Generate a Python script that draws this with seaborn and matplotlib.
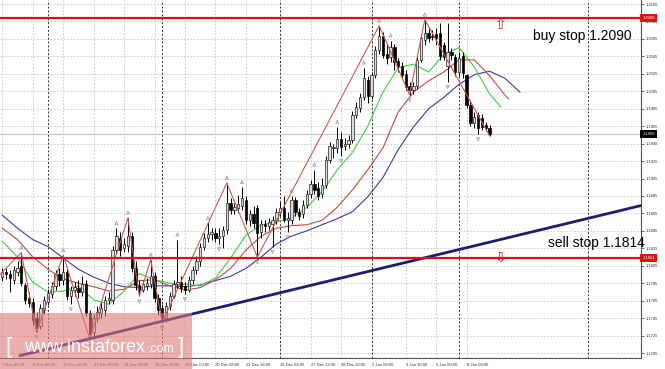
import numpy as np
import pandas as pd
import matplotlib
matplotlib.use('Agg')
import matplotlib.pyplot as plt
import matplotlib.transforms as mtransforms
from matplotlib.patches import Rectangle
import seaborn as sns

# EURUSD H4 bars, 7 Dec 00:00 -> 9 Jan 08:00
bar_open = [1.1792, 1.1798, 1.1796, 1.1789, 1.1798, 1.1805, 1.1783, 1.1768, 1.1764, 1.1745,
            1.1736, 1.1754, 1.1764, 1.1773, 1.1782, 1.1796, 1.1789, 1.1798, 1.1770, 1.1777,
            1.1780, 1.1775, 1.1784, 1.1751, 1.1729, 1.1745, 1.1751, 1.1754, 1.1766, 1.1766,
            1.1823, 1.1837, 1.1825, 1.1828, 1.1839, 1.1803, 1.1783, 1.1777, 1.1782, 1.1784,
            1.1793, 1.1768, 1.1757, 1.1745, 1.1759, 1.1770, 1.1784, 1.1786, 1.1782, 1.1777,
            1.1789, 1.1800, 1.1810, 1.1827, 1.1837, 1.1841, 1.1843, 1.1837, 1.1839, 1.1846,
            1.1877, 1.1869, 1.1871, 1.1874, 1.1880, 1.1857, 1.1864, 1.1871, 1.1844, 1.1853,
            1.1851, 1.1853, 1.1857, 1.1867, 1.1871, 1.1857, 1.1857, 1.1880, 1.1867, 1.1864,
            1.1875, 1.1887, 1.1899, 1.1894, 1.1887, 1.1898, 1.1926, 1.1940, 1.1940, 1.1950,
            1.1942, 1.1945, 1.1949, 1.1978, 1.1986, 1.1999, 1.2018, 1.2000, 1.2024, 1.2052,
            1.2068, 1.2048, 1.2044, 1.2056, 1.2040, 1.2034, 1.2025, 1.2011, 1.2007, 1.2011,
            1.2041, 1.2064, 1.2072, 1.2068, 1.2071, 1.2072, 1.2058, 1.2034, 1.2050, 1.2044,
            1.2027, 1.2045, 1.2024, 1.1989, 1.1969, 1.1978, 1.1974, 1.1966, 1.1963]
bar_high = [1.1803, 1.1803, 1.1800, 1.1805, 1.1810, 1.1820, 1.1785, 1.1775, 1.1768, 1.1752,
            1.1761, 1.1770, 1.1778, 1.1786, 1.1800, 1.1803, 1.1817, 1.1803, 1.1782, 1.1786,
            1.1789, 1.1793, 1.1789, 1.1754, 1.1750, 1.1759, 1.1764, 1.1770, 1.1775, 1.1828,
            1.1848, 1.1844, 1.1837, 1.1860, 1.1844, 1.1810, 1.1789, 1.1789, 1.1791, 1.1812,
            1.1798, 1.1773, 1.1761, 1.1764, 1.1775, 1.1789, 1.1835, 1.1793, 1.1786, 1.1793,
            1.1805, 1.1816, 1.1831, 1.1843, 1.1854, 1.1848, 1.1848, 1.1848, 1.1851, 1.1900,
            1.1883, 1.1877, 1.1886, 1.1895, 1.1885, 1.1869, 1.1874, 1.1875, 1.1857, 1.1857,
            1.1860, 1.1862, 1.1871, 1.1878, 1.1885, 1.1867, 1.1885, 1.1884, 1.1871, 1.1880,
            1.1892, 1.1903, 1.1915, 1.1901, 1.1906, 1.1931, 1.1947, 1.1945, 1.1964, 1.1958,
            1.1951, 1.1955, 1.1982, 1.1993, 1.2003, 1.2032, 1.2023, 1.2027, 1.2057, 1.2080,
            1.2073, 1.2059, 1.2063, 1.2059, 1.2043, 1.2039, 1.2029, 1.2016, 1.2016, 1.2045,
            1.2071, 1.2087, 1.2079, 1.2075, 1.2078, 1.2083, 1.2061, 1.2083, 1.2055, 1.2048,
            1.2050, 1.2050, 1.2025, 1.1995, 1.1981, 1.1981, 1.1979, 1.1970, 1.1966]
bar_low = [1.1788, 1.1790, 1.1775, 1.1784, 1.1793, 1.1782, 1.1761, 1.1758, 1.1737, 1.1729,
           1.1732, 1.1750, 1.1760, 1.1768, 1.1777, 1.1782, 1.1783, 1.1766, 1.1761, 1.1770,
           1.1768, 1.1770, 1.1748, 1.1721, 1.1722, 1.1741, 1.1745, 1.1748, 1.1761, 1.1761,
           1.1819, 1.1816, 1.1821, 1.1821, 1.1798, 1.1777, 1.1770, 1.1775, 1.1777, 1.1780,
           1.1764, 1.1749, 1.1740, 1.1741, 1.1754, 1.1768, 1.1780, 1.1775, 1.1773, 1.1775,
           1.1784, 1.1796, 1.1805, 1.1823, 1.1832, 1.1835, 1.1832, 1.1830, 1.1825, 1.1841,
           1.1864, 1.1864, 1.1867, 1.1869, 1.1853, 1.1851, 1.1848, 1.1815, 1.1837, 1.1844,
           1.1846, 1.1827, 1.1853, 1.1862, 1.1855, 1.1844, 1.1853, 1.1862, 1.1857, 1.1860,
           1.1871, 1.1883, 1.1887, 1.1880, 1.1883, 1.1894, 1.1923, 1.1929, 1.1934, 1.1931,
           1.1938, 1.1940, 1.1946, 1.1974, 1.1981, 1.1995, 1.1992, 1.1996, 1.2020, 1.2048,
           1.2043, 1.2036, 1.2039, 1.2029, 1.2027, 1.2020, 1.2007, 1.2001, 1.2002, 1.2008,
           1.2039, 1.2058, 1.2061, 1.2064, 1.2058, 1.2041, 1.2041, 1.2016, 1.2041, 1.2023,
           1.2023, 1.2020, 1.1986, 1.1965, 1.1963, 1.1956, 1.1961, 1.1960, 1.1954]
bar_close = [1.1798, 1.1796, 1.1791, 1.1800, 1.1803, 1.1785, 1.1766, 1.1762, 1.1743, 1.1734,
             1.1757, 1.1766, 1.1774, 1.1782, 1.1796, 1.1789, 1.1798, 1.1770, 1.1777, 1.1781,
             1.1775, 1.1784, 1.1751, 1.1727, 1.1745, 1.1752, 1.1757, 1.1766, 1.1768, 1.1823,
             1.1839, 1.1823, 1.1830, 1.1839, 1.1803, 1.1783, 1.1777, 1.1784, 1.1785, 1.1793,
             1.1768, 1.1754, 1.1745, 1.1759, 1.1770, 1.1784, 1.1786, 1.1780, 1.1777, 1.1789,
             1.1800, 1.1810, 1.1827, 1.1837, 1.1841, 1.1844, 1.1837, 1.1839, 1.1846, 1.1877,
             1.1869, 1.1872, 1.1876, 1.1883, 1.1857, 1.1864, 1.1854, 1.1843, 1.1853, 1.1851,
             1.1855, 1.1857, 1.1867, 1.1871, 1.1857, 1.1860, 1.1880, 1.1867, 1.1862, 1.1875,
             1.1887, 1.1899, 1.1892, 1.1885, 1.1898, 1.1926, 1.1942, 1.1941, 1.1950, 1.1941,
             1.1945, 1.1949, 1.1978, 1.1987, 1.1999, 1.2020, 1.2000, 1.2024, 1.2052, 1.2068,
             1.2047, 1.2043, 1.2056, 1.2039, 1.2034, 1.2024, 1.2010, 1.2007, 1.2011, 1.2041,
             1.2066, 1.2072, 1.2066, 1.2067, 1.2066, 1.2045, 1.2044, 1.2050, 1.2047, 1.2027,
             1.2043, 1.2026, 1.1989, 1.1969, 1.1976, 1.1963, 1.1964, 1.1963, 1.1956]

# Alligator lines, read every 4 bars (jaw is shifted 8 bars, teeth 5, lips 3)
jaw = [1.1863, 1.1848, 1.1835, 1.1827, 1.1814, 1.1801, 1.1792, 1.1785, 1.1781, 1.1780,
       1.1782, 1.1782, 1.1781, 1.1783, 1.1788, 1.1793, 1.1802, 1.1815, 1.1830, 1.1839,
       1.1845, 1.1852, 1.1859, 1.1867, 1.1884, 1.1906, 1.1938, 1.1964, 1.1985, 1.1998,
       1.2013, 1.2024, 1.2028, 1.2020, 1.2004]
teeth = [1.1848, 1.1835, 1.1815, 1.1801, 1.1790, 1.1785, 1.1781, 1.1776, 1.1778, 1.1788,
         1.1789, 1.1782, 1.1777, 1.1780, 1.1789, 1.1802, 1.1823, 1.1839, 1.1848, 1.1851,
         1.1852, 1.1857, 1.1872, 1.1892, 1.1915, 1.1940, 1.1981, 1.2004, 1.2017, 1.2027,
         1.2041, 1.2041, 1.2023, 1.2001, 1.1996]
lips = [1.1833, 1.1815, 1.1786, 1.1775, 1.1776, 1.1782, 1.1766, 1.1761, 1.1776, 1.1796,
        1.1789, 1.1785, 1.1784, 1.1782, 1.1791, 1.1814, 1.1840, 1.1852, 1.1855, 1.1860,
        1.1872, 1.1890, 1.1915, 1.1935, 1.1965, 1.2004, 1.2032, 1.2036, 1.2027, 1.2047,
        1.2055, 1.2033, 1.2002, 1.1987]
jaw_idx = list(range(0, 137, 4))
teeth_idx = list(range(0, 133, 4)) + [133]
lips_idx = list(range(0, 129, 4)) + [131]

# zigzag pivots and fractal bars
zz_idx = [-2, 5, 9, 16, 23, 33, 36, 39, 42, 59, 67, 99, 107, 111, 128]
zz_price = [1.1789, 1.1820, 1.1729, 1.1817, 1.1721, 1.1860, 1.1770, 1.1812, 1.1740,
            1.1900, 1.1815, 1.2080, 1.2001, 1.2087, 1.1954]
fractal_up = [5, 16, 30, 33, 39, 46, 54, 59, 63, 76, 82, 88, 95, 99, 102, 111, 117]
fractal_dn = [9, 18, 23, 36, 42, 48, 57, 67, 71, 75, 89, 107, 117, 125]

# levels and trend line
buy_stop = 1.2089
sell_stop = 1.1814
last_price = 1.1956
trend_idx = [4.6, 167.8]
trend_price = [1.1702, 1.1874]
order_bar = 130.8
week_breaks = [12, 42, 73, 97, 120, 154]

time_ticks = [0, 8, 16, 24, 32, 40, 48, 56, 64, 73, 81, 89, 97, 106, 114, 122]
time_labels = ['7 Dec 00:00', '8 Dec 08:00', '11 Dec 16:00', '13 Dec 00:00', '14 Dec 08:00',
               '15 Dec 16:00', '19 Dec 00:00', '20 Dec 08:00', '21 Dec 16:00', '26 Dec 04:00',
               '27 Dec 12:00', '28 Dec 20:00', '2 Jan 08:00', '3 Jan 16:00', '5 Jan 00:00',
               '8 Jan 08:00']
price_ticks = [1.1705, 1.1725, 1.1745, 1.1765, 1.1785, 1.1805, 1.1825, 1.1845, 1.1865,
               1.1885, 1.1905, 1.1925, 1.1945, 1.1965, 1.1985, 1.2005, 1.2025, 1.2045,
               1.2065, 1.2085, 1.2105]

sns.set_style('white')
plt.rcParams['font.family'] = ['Liberation Sans', 'DejaVu Sans']

bars = pd.DataFrame({'open': bar_open, 'high': bar_high, 'low': bar_low, 'close': bar_close})
bars['idx'] = np.arange(len(bars))
up = bars[bars['close'] >= bars['open']]
dn = bars[bars['close'] < bars['open']]

fig = plt.figure(figsize=(6.65, 3.69), dpi=100)
ax = fig.add_axes([0.0, 11 / 369, 641 / 665, 358 / 369])
ax.set_xlim(-0.6, 167.8)
ax.set_ylim(1.16993, 1.21096)

# grid + period separators
for p in price_ticks:
    ax.axhline(p, color='#c4c4c4', lw=0.6, ls=(0, (2, 2)), zorder=0)
for t in time_ticks:
    ax.axvline(t, color='#c4c4c4', lw=0.6, ls=(0, (2, 2)), zorder=0)
for w in week_breaks:
    ax.axvline(w, color='#303030', lw=0.7, ls=(0, (2, 2)), zorder=1)

ax.axhline(last_price, color='#c8c8c8', lw=0.8, zorder=1)

# candles
ax.vlines(bars['idx'], bars['low'], bars['high'], color='black', lw=0.7, zorder=3)
ax.bar(up['idx'], (up['close'] - up['open']).clip(lower=0.00008), bottom=up['open'],
       width=0.62, color='#dcdcdc', edgecolor='#202020', lw=0.5, zorder=4)
ax.bar(dn['idx'], dn['close'] - dn['open'], bottom=dn['open'],
       width=0.62, color='black', edgecolor='black', lw=0.5, zorder=4)

# alligator + zigzag
sns.lineplot(x=jaw_idx, y=jaw, ax=ax, color='#3b3ba6', lw=0.8, estimator=None, zorder=2)
sns.lineplot(x=teeth_idx, y=teeth, ax=ax, color='#c84848', lw=0.8, estimator=None, zorder=2)
sns.lineplot(x=lips_idx, y=lips, ax=ax, color='#3fcf3f', lw=0.8, estimator=None, zorder=2)
sns.lineplot(x=zz_idx, y=zz_price, ax=ax, color='#c85a5a', lw=0.8, estimator=None,
             sort=False, zorder=5)

# fractal arrows
ax.scatter(fractal_up, bars['high'].iloc[fractal_up] + 0.0006, marker='^', s=5,
           facecolors='none', edgecolors='#909090', lw=0.5, zorder=5)
ax.scatter(fractal_dn, bars['low'].iloc[fractal_dn] - 0.0006, marker='v', s=5,
           facecolors='none', edgecolors='#909090', lw=0.5, zorder=5)

# trend line and pending order levels
sns.lineplot(x=trend_idx, y=trend_price, ax=ax, color='#1c1c72', lw=2.0, estimator=None, zorder=6)
ax.axhline(buy_stop, color='#e01010', lw=1.6, zorder=6)
ax.axhline(sell_stop, color='#e01010', lw=1.6, zorder=6)
ax.text(order_bar, buy_stop, '\u21e7', color='#e01010', fontsize=10, ha='center', va='top',
        family='DejaVu Sans', zorder=7)
ax.text(order_bar, sell_stop, '\u21e9', color='#e01010', fontsize=10, ha='center', va='center',
        family='DejaVu Sans', zorder=7)
ax.text(533 / 641, 1 - 36 / 358, 'buy stop 1.2090', transform=ax.transAxes, fontsize=10,
        ha='left', va='center', color='black')
ax.text(548 / 641, 1 - 243 / 358, 'sell stop 1.1814', transform=ax.transAxes, fontsize=10,
        ha='left', va='center', color='black')

# axes
ax.yaxis.tick_right()
ax.set_yticks(price_ticks)
ax.set_yticklabels([f'{p:.4f}' for p in price_ticks])
ax.set_xticks(time_ticks)
ax.set_xticklabels(time_labels, ha='left')
ax.tick_params(axis='both', labelsize=3, length=2, width=0.5, pad=1.5, colors='#303030')
for s in ['left', 'top']:
    ax.spines[s].set_visible(False)
for s in ['right', 'bottom']:
    ax.spines[s].set_color('#505050')
    ax.spines[s].set_linewidth(0.8)

trans = mtransforms.blended_transform_factory(ax.transAxes, ax.transData)
for val, bg in [(buy_stop, '#e01010'), (sell_stop, '#e01010'), (last_price, 'black')]:
    ax.text(1.002, val, f'{val:.4f}', transform=trans, fontsize=3, color='white', ha='left',
            va='center', bbox=dict(boxstyle='square,pad=0.45', fc=bg, ec='none'), zorder=8)

# watermark
fig.patches.append(Rectangle((0, 0), 192 / 665, 56 / 369, transform=fig.transFigure,
                             facecolor='#e07878', alpha=0.6, edgecolor='none', zorder=10))
fig.text(5 / 665, 22 / 369, '[', color='white', fontsize=16, ha='left', va='center', zorder=11)
fig.text(24 / 665, 22 / 369, 'www.instaforex', color='white', fontsize=13, ha='left',
         va='center', zorder=11)
fig.text(148 / 665, 20 / 369, '.com', color='white', fontsize=9, ha='left',
         va='center', zorder=11)
fig.text(178 / 665, 22 / 369, ']', color='white', fontsize=16, ha='left', va='center', zorder=11)

fig.savefig('out.png', dpi=100)
